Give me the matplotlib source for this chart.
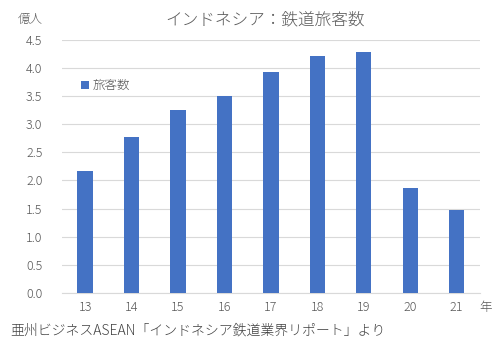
import numpy as np
import matplotlib
matplotlib.use("Agg")
import matplotlib.pyplot as plt

plt.rcParams['font.family'] = ['Noto Sans CJK JP', 'DejaVu Sans']
plt.rcParams['font.weight'] = 'light'

years = ['13', '14', '15', '16', '17', '18', '19', '20', '21']
passengers = [2.16, 2.77, 3.25, 3.51, 3.92, 4.21, 4.28, 1.86, 1.48]  # 億人
yticks = np.arange(0, 4.6, 0.5)

fig = plt.figure(figsize=(5.03, 3.56), dpi=100)
ax = fig.add_axes([0.123, 0.177, 0.831, 0.711])

x = np.arange(len(years))
ax.bar(x, passengers, width=0.33, color='#4472C4', label='旅客数', zorder=3)

ax.set_xlim(-0.5, len(years) - 0.5)
ax.set_ylim(0, 4.5)
ax.set_yticks(yticks)
ax.set_yticklabels([f'{v:.1f}' for v in yticks])
ax.set_xticks(x)
ax.set_xticklabels(years)
ax.grid(axis='y', color='#d9d9d9', linewidth=0.8, zorder=0)
for s in ['top', 'right', 'left']:
    ax.spines[s].set_visible(False)
ax.spines['bottom'].set_color('#d9d9d9')
ax.tick_params(length=0, colors='#595959', labelsize=9)
ax.tick_params(axis='y', pad=14)
ax.tick_params(axis='x', pad=6)

leg = ax.legend(loc='upper left', bbox_to_anchor=(0.02, 0.89), frameon=False,
                handlelength=0.6, handleheight=0.6, handletextpad=0.3,
                fontsize=9, labelcolor='#595959')

fig.text(0.527, 0.945, 'インドネシア：鉄道旅客数', ha='center', va='center',
         fontsize=12, color='#595959')
fig.text(0.06, 0.945, '億人', ha='center', va='center', fontsize=9, color='#595959')
fig.text(0.965, 0.135, '年', ha='center', va='center', fontsize=9, color='#595959')
fig.text(0.02, 0.072, '亜州ビジネスASEAN「インドネシア鉄道業界リポート」より',
         ha='left', va='center', fontsize=10, color='#404040')

fig.savefig('out.png', dpi=100)
